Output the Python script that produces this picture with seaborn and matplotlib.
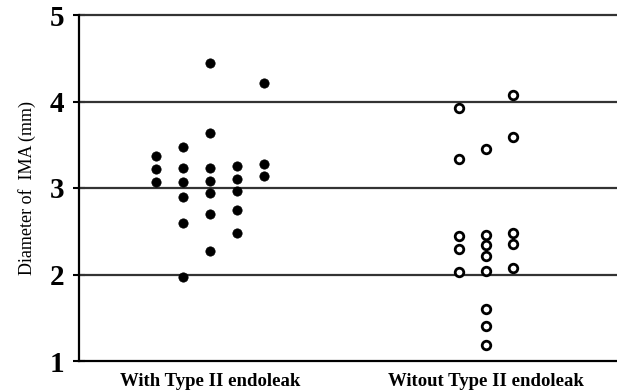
import pandas as pd
import matplotlib.pyplot as plt
import seaborn as sns

# Diameter of IMA (mm), one list per column of dots in each group
groups = ['With Type II endoleak', 'Witout Type II endoleak']
with_leak = [
    [3.37, 3.22, 3.07],
    [3.47, 3.23, 3.07, 2.90, 2.60, 1.97],
    [4.44, 3.64, 3.23, 3.08, 2.94, 2.70, 2.27],
    [3.25, 3.10, 2.97, 2.75, 2.48],
    [4.21, 3.28, 3.14],
]
without_leak = [
    [3.92, 3.34, 2.44, 2.30, 2.03],
    [3.45, 2.46, 2.34, 2.21, 2.04, 1.60, 1.41, 1.19],
    [4.07, 3.59, 2.48, 2.35, 2.08],
]
y_ticks = [1, 2, 3, 4, 5]

# Build a long table: group, column index, value
rows = []
for gi, cols in enumerate([with_leak, without_leak]):
    n = len(cols)
    for c, vals in enumerate(cols):
        for v in vals:
            rows.append({'group': groups[gi], 'gi': gi, 'col': c - (n - 1) / 2, 'value': v})
df = pd.DataFrame(rows)
df['x'] = df['gi'] + df['col'] * 0.098

sns.set_style('white')
plt.rcParams['font.family'] = ['Liberation Serif', 'DejaVu Serif']
plt.rcParams['text.color'] = 'black'
plt.rcParams['axes.labelcolor'] = 'black'
plt.rcParams['xtick.color'] = 'black'
plt.rcParams['ytick.color'] = 'black'

fig = plt.figure(figsize=(6.17, 3.91), dpi=100)
ax = fig.add_axes([79 / 617, 30 / 391, 1 - 79 / 617, 346 / 391])

for y in [2, 3, 4, 5]:
    ax.axhline(y, color='#333333', lw=1.6, clip_on=False, zorder=1)

sns.scatterplot(data=df[df['gi'] == 0], x='x', y='value', ax=ax, color='black',
                s=45, edgecolor='black', linewidth=0.5, zorder=3, legend=False)
sns.scatterplot(data=df[df['gi'] == 1], x='x', y='value', ax=ax, color='white',
                s=38, edgecolor='black', linewidth=2.0, zorder=3, legend=False)

ax.set_xlim(-0.475, 1.474)
ax.set_ylim(1, 5)
ax.set_yticks(y_ticks)
ax.set_yticklabels([str(t) for t in y_ticks], fontsize=21, fontweight='bold')
ax.set_xticks([0, 1])
ax.set_xticklabels(groups, fontsize=13.5, fontweight='bold')
ax.tick_params(axis='y', length=8, width=1.5, color='black', pad=6.5, direction='inout', left=True)
ax.tick_params(axis='x', length=0, pad=9)
ax.set_xlabel('')
ax.set_ylabel('Diameter of  IMA (mm)', fontsize=13, labelpad=10)

for s in ['top', 'right']:
    ax.spines[s].set_visible(False)
for s in ['left', 'bottom']:
    ax.spines[s].set_color('black')
    ax.spines[s].set_linewidth(1.6)

fig.savefig('out.png', dpi=100)
